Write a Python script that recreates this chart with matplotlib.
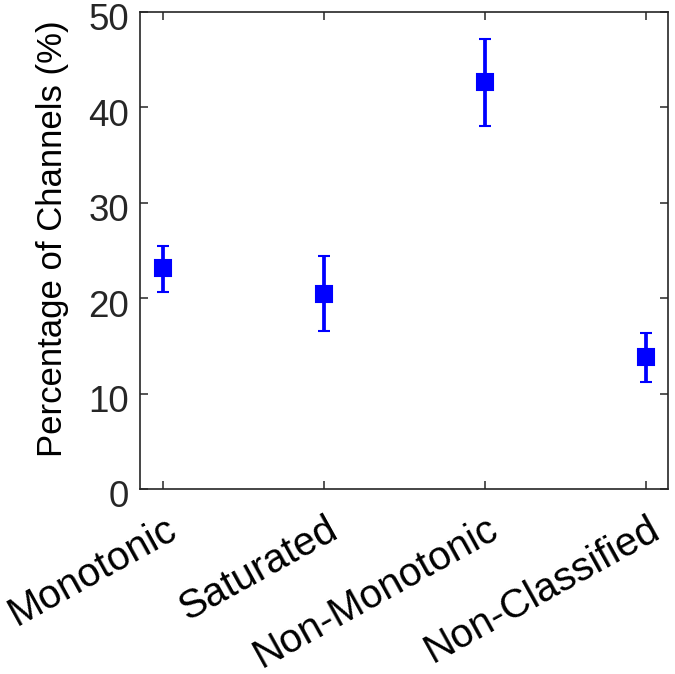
import matplotlib
matplotlib.use("Agg")
import matplotlib.pyplot as plt
import matplotlib.transforms as mtransforms

categories = ["Monotonic", "Saturated", "Non-Monotonic", "Non-Classified"]
means = [23.2, 20.4, 42.7, 13.8]
upper = [25.5, 24.4, 47.2, 16.4]
lower = [20.7, 16.6, 38.0, 11.2]
yticks = [0, 10, 20, 30, 40, 50]

plt.rcParams['font.family'] = ['Liberation Sans', 'DejaVu Sans']
fig = plt.figure(figsize=(6.75, 6.74), dpi=100)
ax = fig.add_axes([0.2074, 0.2745, 0.7822, 0.7077])

x = list(range(1, len(categories) + 1))
yerr = [[m - l for m, l in zip(means, lower)], [u - m for m, u in zip(means, upper)]]
ax.errorbar(x, means, yerr=yerr, fmt='s', color='#0000ff', ecolor='#0000ff',
            markersize=12, elinewidth=2.7, capsize=4.6, capthick=2.7,
            markeredgewidth=1.5, markeredgecolor='#0000ff')

ax.set_xlim(0.857, 4.137)
ax.set_ylim(0, 50)
ax.set_yticks(yticks)
ax.set_xticks(x)
ax.set_xticklabels(categories, rotation=29, ha='right', va='baseline',
                   rotation_mode='anchor', fontsize=29, color='#000000')
ax.tick_params(direction='in', length=6, width=1.1, colors='#262626',
               top=True, right=True)
ax.tick_params(axis='y', labelsize=26.5, pad=8, labelcolor='#262626')
ax.tick_params(axis='x', pad=33.8, labelcolor='#000000')
offset = mtransforms.ScaledTranslation(16 / 100, 0, fig.dpi_scale_trans)
for lab in ax.get_xticklabels():
    lab.set_transform(lab.get_transform() + offset)
yoff = mtransforms.ScaledTranslation(0, -5 / 100, fig.dpi_scale_trans)
for lab in ax.get_yticklabels():
    lab.set_transform(lab.get_transform() + yoff)
for s in ax.spines.values():
    s.set_linewidth(1.2)
    s.set_color('#262626')
ax.set_ylabel('Percentage of Channels (%)', fontsize=25, color='#000000')
ax.yaxis.set_label_coords(-0.1345, 0.525)

fig.savefig('out.png', dpi=100)
